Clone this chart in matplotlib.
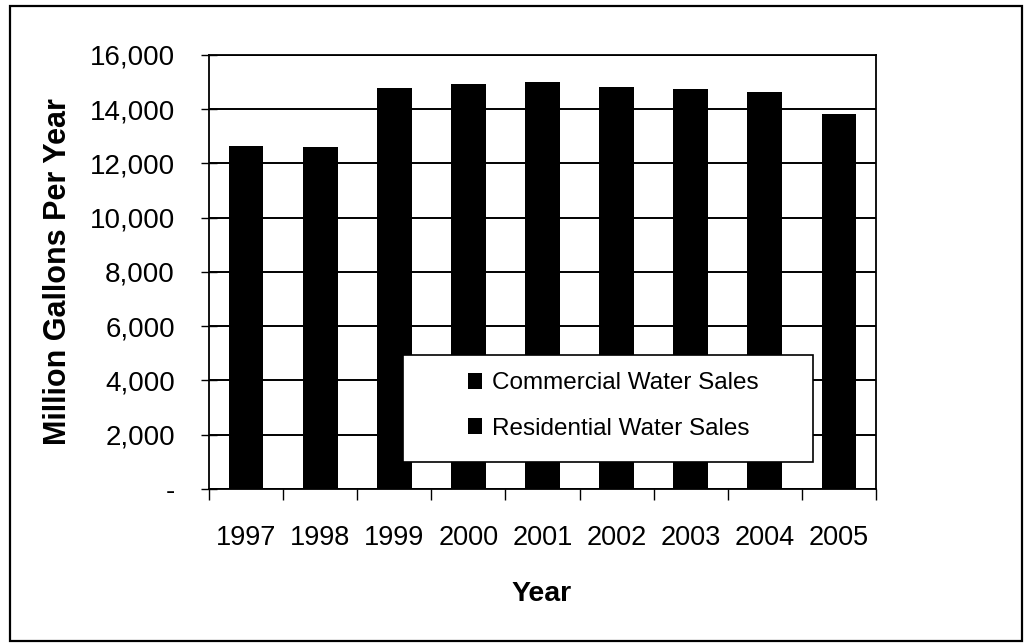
import matplotlib.pyplot as plt
import numpy as np
from matplotlib.patches import Rectangle
from matplotlib.ticker import FuncFormatter

plt.rcParams['font.family'] = ['Liberation Sans', 'DejaVu Sans']

# Annual water sales, million gallons
years = ['1997', '1998', '1999', '2000', '2001', '2002', '2003', '2004', '2005']
residential = [7300, 7250, 8550, 8620, 8660, 8560, 8510, 8460, 8000]
commercial = [5330, 5370, 6230, 6310, 6330, 6250, 6220, 6180, 5840]

fig = plt.figure(figsize=(10.3, 6.43), dpi=100)
ax = fig.add_axes([0.2029, 0.2395, 0.6476, 0.675])

x = np.arange(len(years))
ax.bar(x, residential, width=0.47, color='black', label='Residential Water Sales')
ax.bar(x, commercial, width=0.47, bottom=residential, color='black',
       label='Commercial Water Sales')

ax.set_xlim(-0.5, len(years) - 0.5)
ax.set_ylim(0, 16000)
ax.set_yticks(np.arange(0, 16001, 2000))
ax.yaxis.set_major_formatter(FuncFormatter(lambda v, p: '-' if v == 0 else f'{v:,.0f}'))
ax.grid(axis='y', color='black', linewidth=1.4)
ax.set_axisbelow(True)

# category labels centred on bars, tick marks between categories
ax.set_xticks(x)
ax.set_xticklabels(years)
ax.set_xticks(np.arange(-0.5, len(years)), minor=True)
ax.tick_params(axis='x', which='major', length=0, pad=26, labelsize=19.5)
ax.tick_params(axis='x', which='minor', length=8, width=1, direction='out')
ax.tick_params(axis='y', length=11, width=1, direction='inout', pad=19, labelsize=20)

for s in ax.spines.values():
    s.set_linewidth(1.3)
    s.set_color('black')

ax.set_ylabel('Million Gallons Per Year', fontsize=22, fontweight='bold')
ax.yaxis.set_label_coords(-0.226, 0.5)
ax.yaxis.label.set_va('center')
ax.set_xlabel('Year', fontsize=20.5, fontweight='bold')
ax.xaxis.set_label_coords(0.498, -0.242)
ax.xaxis.label.set_va('center')

# legend box over the bars
fig.patches.append(Rectangle((403 / 1030, 1 - 462 / 643), 410 / 1030, 107 / 643,
                             transform=fig.transFigure, facecolor='white',
                             edgecolor='black', linewidth=1.2, zorder=5))
handles, labels = ax.get_legend_handles_labels()
leg = fig.legend(handles[::-1], labels[::-1], loc='center',
                 bbox_to_anchor=(613 / 1030, 1 - 406 / 643), frameon=False,
                 fontsize=17.5, handlelength=0.6, handleheight=0.6,
                 handletextpad=0.4, labelspacing=0.95, borderpad=0)
leg.set_zorder(6)

# outer border of the chart
fig.patches.append(Rectangle((10 / 1030, 1 - 641 / 643), 1012 / 1030, 635 / 643,
                             transform=fig.transFigure, fill=False,
                             edgecolor='black', linewidth=1.6))

fig.savefig('out.png', dpi=100)
